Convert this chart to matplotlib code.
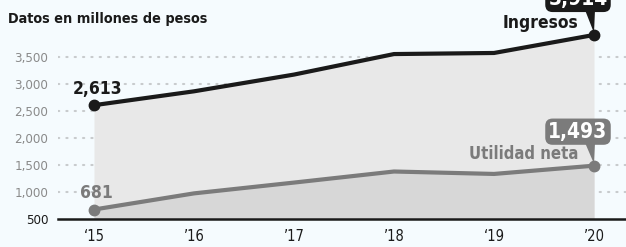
import matplotlib
matplotlib.use("Agg")
import matplotlib.pyplot as plt
from matplotlib.patches import Polygon

years = [2015, 2016, 2017, 2018, 2019, 2020]
year_labels = ["\u201815", "\u201916", "\u201917", "\u201918", "\u201819", "\u201920"]
ingresos = [2613, 2870, 3180, 3560, 3580, 3914]
utilidad = [681, 980, 1180, 1385, 1340, 1493]
yticks = [500, 1000, 1500, 2000, 2500, 3000, 3500]
ytick_labels = ["500", "1,000", "1,500", "2,000", "2,500", "3,000", "3,500"]
title = "Datos en millones de pesos"

plt.rcParams['font.family'] = ["DejaVu Sans"]
plt.rcParams['font.stretch'] = "condensed"

BG = "#f5fbfe"
W, H, DPI = 626, 247, 100
fig = plt.figure(figsize=(W / DPI, H / DPI), dpi=DPI, facecolor=BG)
ax = fig.add_axes([58 / W, (H - 219.3) / H, 1 - 58 / W, 219.3 / H])
ax.set_facecolor(BG)
ax.set_xlim(2014.64, 2020.32)
ax.set_ylim(500, 4561)
for s in ax.spines.values():
    s.set_visible(False)

for yv in yticks[1:]:
    ax.axhline(yv, color="#c8cbcd", lw=1.5, ls=(0, (0.6, 3.4)), dash_capstyle="round", zorder=0)

ax.fill_between(years, ingresos, 500, color="#e8e8e8", zorder=1, lw=0)
ax.fill_between(years, utilidad, 500, color="#d7d7d7", zorder=2, lw=0)
ax.plot(years, ingresos, color="#1a1a1a", lw=3.0, zorder=4, solid_capstyle="round")
ax.plot(years, utilidad, color="#7b7b7b", lw=3.0, zorder=3, solid_capstyle="round")
ax.plot([years[0], years[-1]], [ingresos[0], ingresos[-1]], "o", color="#1a1a1a", ms=7.5, zorder=5)
ax.plot([years[0], years[-1]], [utilidad[0], utilidad[-1]], "o", color="#7b7b7b", ms=7.5, zorder=5)

ax.axhline(500, color="#1a1a1a", lw=1.8, zorder=6, clip_on=False)

ax.set_yticks(yticks)
ax.set_yticklabels(ytick_labels)
ax.set_xticks(years)
ax.set_xticklabels(year_labels)
ax.tick_params(axis="y", length=0, pad=7, labelsize=9.5, labelcolor="#8a8a8a")
ax.tick_params(axis="x", length=0, pad=7, labelsize=10.5, labelcolor="#1a1a1a")
ax.get_yticklabels()[0].set_color("#1a1a1a")

fig.text(8 / W, 1 - 19 / H, title, fontsize=10.4, fontweight="bold", color="#1a1a1a",
         ha="left", va="center")

ax.annotate("2,613", (years[0], ingresos[0]), xytext=(-21, 7), textcoords="offset pixels",
            fontsize=12.5, fontweight="bold", color="#1a1a1a", ha="left", va="bottom", zorder=7)
ax.annotate("681", (years[0], utilidad[0]), xytext=(-14, 8), textcoords="offset pixels",
            fontsize=12.5, fontweight="bold", color="#7b7b7b", ha="left", va="bottom", zorder=7)


def callout(x, y, text, color, label, box_dy, label_size):
    ax.annotate(text, (x, y), xytext=(-16, box_dy), textcoords="offset pixels",
                fontsize=15, fontweight="bold", color="white", ha="center", va="center",
                bbox=dict(boxstyle="round,pad=0.15,rounding_size=0.35", fc=color, ec="none"),
                zorder=9, annotation_clip=False)
    bottom = box_dy - 11
    px, py = ax.transData.transform((x, y))
    inv = ax.transData.inverted()
    pts = [inv.transform((px - 9, py + bottom)), inv.transform((px + 1, py + bottom)),
           inv.transform((px, py + 2))]
    ax.add_patch(Polygon(pts, closed=True, fc=color, ec="none", zorder=8, clip_on=False))
    ax.annotate(label, (x, y), xytext=(-16, 12), textcoords="offset pixels",
                fontsize=label_size, fontweight="bold", color=color, ha="right", va="center", zorder=7)


callout(years[-1], ingresos[-1], "3,914", "#1a1a1a", "Ingresos", 36, 12.5)
callout(years[-1], utilidad[-1], "1,493", "#7b7b7b", "Utilidad neta", 34, 12)

fig.savefig("out.png", dpi=DPI, facecolor=BG)
